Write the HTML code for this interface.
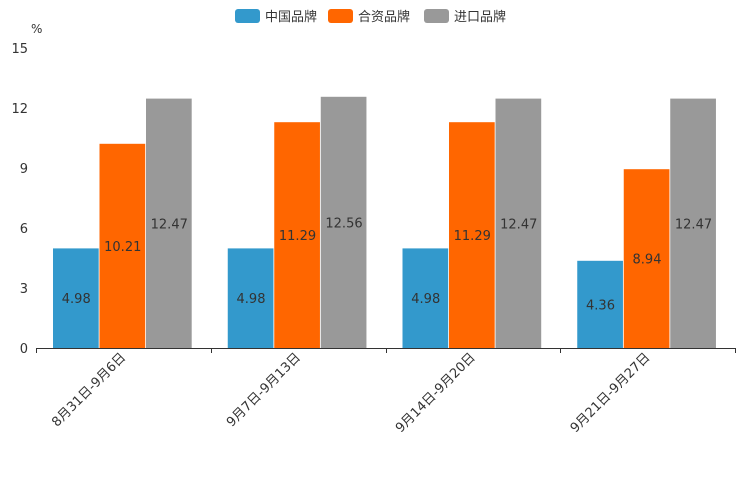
<!DOCTYPE html>
<html><head><meta charset="utf-8"><style>
body{margin:0;background:#fff;}
svg{display:block;font-family:"DejaVu Sans","Liberation Sans","Noto Sans CJK SC",sans-serif;}
</style></head><body>
<svg id="chart" width="744" height="496"></svg>
<script>
const categories=["8月31日-9月6日","9月7日-9月13日","9月14日-9月20日","9月21日-9月27日"];
const seriesNames=["中国品牌","合资品牌","进口品牌"];
const chinaValues=[4.98,4.98,4.98,4.36];
const jvValues=[10.21,11.29,11.29,8.94];
const importValues=[12.47,12.56,12.47,12.47];
const yTicks=[0,3,6,9,12,15];
const colors=["#3399cc","#ff6600","#999999"];
const series=[chinaValues,jvValues,importValues];
const NS="http://www.w3.org/2000/svg";
const svg=document.getElementById('chart');
const x0=36,x1=735,y0=348,yTop=48,yMax=15;
const yS=v=>y0-(v/yMax)*(y0-yTop);
const gw=(x1-x0)/categories.length;
const bw=46.5,pad=17;
function el(t,a,txt){const e=document.createElementNS(NS,t);for(const k in a)e.setAttribute(k,a[k]);if(txt!==undefined)e.textContent=txt;svg.appendChild(e);return e;}
// legend
const lx=[235,328,424];
seriesNames.forEach((n,i)=>{
 const r=el('rect',{x:lx[i],y:9,width:25,height:14,rx:3,fill:colors[i]});
 
 
 const t=el('text',{x:lx[i]+30,y:21,'font-size':13,fill:'#333'},n);
 
 
});
const u=el('text',{x:31,y:33,'font-size':12,fill:'#333'},'%');


// y ticks
yTicks.forEach(v=>{
 const t=el('text',{x:28,y:yS(v)+5,'font-size':13,fill:'#333','text-anchor':'end'},String(v));
 
 
});
// bars
categories.forEach((c,ci)=>{
 const gx=x0+gw*ci;
 series.forEach((s,si)=>{
  const v=s[ci];const x=gx+pad+si*bw;const y=yS(v);
  const b=el('rect',{x:x,y:y,width:bw-0.8,height:y0-y,fill:colors[si]});
  
  
  const t=el('text',{x:x+bw/2,y:(y+y0)/2+5,'font-size':13,fill:'#333','text-anchor':'middle'},v.toFixed(2));
  
  
 });
 const cx=gx+gw/2;
 const t=el('text',{x:cx+3,y:358,'font-size':13,fill:'#333','text-anchor':'end',transform:`rotate(-45 ${cx+3} 358)`},c);
 
 
});
// axis
const ax=el('line',{x1:x0,y1:y0+0.5,x2:x1,y2:y0+0.5,stroke:'#333','stroke-width':1});


for(let i=0;i<=categories.length;i++){
 const x=Math.round(x0+gw*i)+0.5;
 const tk=el('line',{x1:x,y1:y0,x2:x,y2:y0+5,stroke:'#333'});
 
 
}
</script>
</body></html>
